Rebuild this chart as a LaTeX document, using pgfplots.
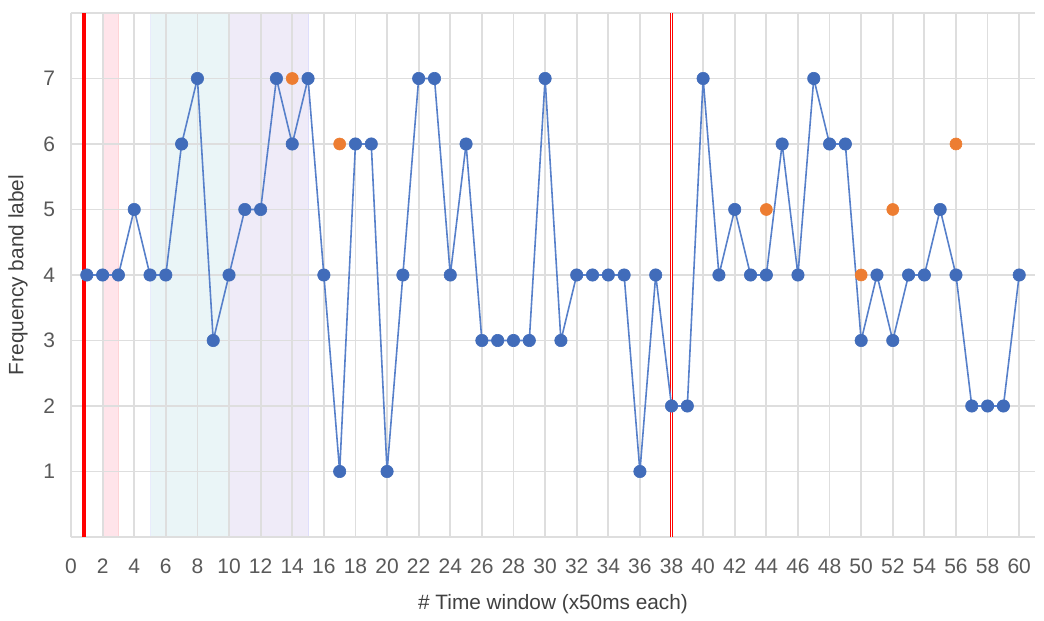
\documentclass[border=0pt]{standalone}
\usepackage{pgfplots}
\pgfplotsset{compat=1.18}
\usepackage{fontspec}
\setmainfont{Liberation Sans}
\definecolor{gridc}{HTML}{DEDEDE}
\definecolor{tickc}{HTML}{595959}
\definecolor{labc}{HTML}{404040}
\definecolor{blueS}{HTML}{4472C4}
\definecolor{orangeS}{HTML}{ED7D31}
\definecolor{pinkB}{HTML}{FFE4EA}
\definecolor{cyanB}{HTML}{EAF5F7}
\definecolor{lavB}{HTML}{EFEBF8}
\begin{document}
\begin{tikzpicture}
\begin{axis}[
  set layers=standard,
  scale only axis,
  width=482pt, height=262pt,
  xmin=0, xmax=61, ymin=0, ymax=8,
  axis line style={draw=none},
  xtick={0,2,...,60},
  ytick={0,1,...,8},
  yticklabels={,1,2,3,4,5,6,7,},
  grid=major,
  major grid style={gridc, line width=0.9pt},
  major tick length=0pt,
  /pgf/number format/assume math mode=true,
  ticklabel style={font=\fontsize{10.5}{12}\selectfont, text=tickc},
  xticklabel style={yshift=-7.5pt},
  yticklabel style={xshift=-4.5pt},
  xlabel={\# Time window (x50ms each)},
  ylabel={Frequency band label},
  label style={font=\fontsize{10.4}{12}\selectfont, text=labc},
  xlabel style={at={(axis description cs:0.5,0)}, anchor=center, yshift=-33.5pt},
  ylabel style={at={(axis description cs:0,0.5)}, anchor=center, yshift=26.5pt},
]
% shaded bands
\addplot[on layer=axis background, fill=pinkB, draw=pinkB!80!red!60] coordinates {(2,0) (3,0) (3,8) (2,8) (2,0)};
\addplot[on layer=axis background, fill=cyanB, draw=cyanB!85!blue!40] coordinates {(5,0) (10,0) (10,8) (5,8) (5,0)};
\addplot[on layer=axis background, fill=lavB, draw=lavB!80!blue!50] coordinates {(10,0) (15,0) (15,8) (10,8) (10,0)};
% red markers of events
\addplot[red, line width=2pt] coordinates {(0.85,0) (0.85,8)};
\addplot[red, line width=0.55pt, double=white, double distance=0.5pt] coordinates {(38,0) (38,8)};
% blue series
\addplot[blueS!90!white, line width=0.8pt, mark=*, mark size=3.1pt, mark options={fill=blueS!95!black, draw=blueS!95!black, line width=0.3pt}] coordinates {
(1,4) (2,4) (3,4) (4,5) (5,4) (6,4) (7,6) (8,7) (9,3) (10,4)
(11,5) (12,5) (13,7) (14,6) (15,7) (16,4) (17,1) (18,6) (19,6) (20,1)
(21,4) (22,7) (23,7) (24,4) (25,6) (26,3) (27,3) (28,3) (29,3) (30,7)
(31,3) (32,4) (33,4) (34,4) (35,4) (36,1) (37,4) (38,2) (39,2) (40,7)
(41,4) (42,5) (43,4) (44,4) (45,6) (46,4) (47,7) (48,6) (49,6) (50,3)
(51,4) (52,3) (53,4) (54,4) (55,5) (56,4) (57,2) (58,2) (59,2) (60,4)
};
% orange series
\addplot[only marks, mark=*, mark size=3pt, mark options={fill=orangeS, draw=orangeS, line width=0.3pt}] coordinates {
(14,7) (17,6) (44,5) (50,4) (52,5) (56,6)
};
\end{axis}
\path ([shift={(-35.5pt,-42pt)}]current axis.south west) rectangle ([shift={(4.5pt,6.5pt)}]current axis.north east);
\end{tikzpicture}
\end{document}
